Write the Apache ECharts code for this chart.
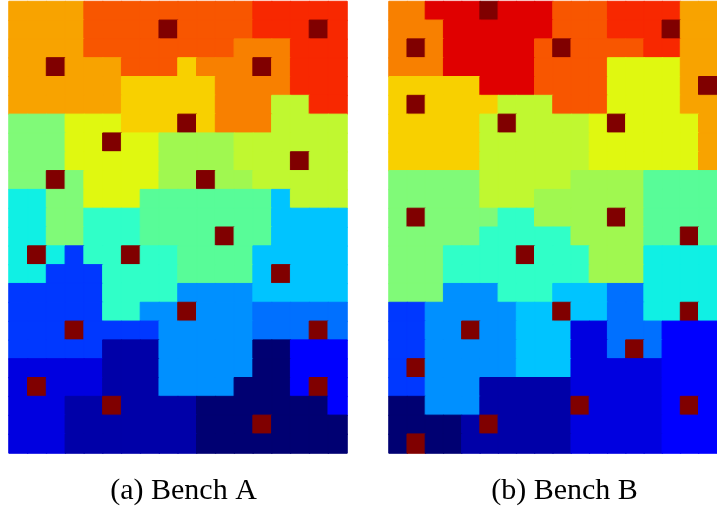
<!DOCTYPE html>
<html>
<head>
<meta charset="utf-8">
<script src="https://cdn.jsdelivr.net/npm/echarts@6/dist/echarts.min.js"></script>
<style>
  html, body { margin: 0; padding: 0; background: #fff; }
  #chart { width: 717px; height: 506px; }
</style>
</head>
<body>
<div id="chart"></div>
<script>
// grid size of each bench
const colCount = 18;
const rowCount = 24;

// colour levels, from coldest to hottest; X = probe marker
const levelCodes = ['N', 'n', 'b', 'B', 'd', 'm', 'l', 'c', 't', 'a', 's', 'g', 'i', 'y', 'Y', 'G', 'o', 'O', 'r', 'R', 'E', 'X'];
const levelColors = ['#000072', '#0000a8', '#0000e0', '#0000ff', '#0038ff', '#0070ff', '#0090ff', '#00c4ff',
  '#10f0e4', '#30ffc8', '#58fc98', '#80fa78', '#a0f850', '#c0f830', '#e0f810', '#f8d000',
  '#f8a300', '#f88000', '#f85600', '#f82800', '#e00000', '#800000'];

// one string per row, top row first, one char per cell
const benchA = [
  'oooorrrrrrrrrRRRRR',
  'oooorrrrXrrrrRRRXR',
  'oooorrrrrrrrOOORRR',
  'ooXooorrrGOOOXORRR',
  'ooooooGGGGGOOOORRR',
  'ooooooGGGGGOOOyyRR',
  'gggYYYGGGXGOOOyyyy',
  'gggYYXYYiiiiyyyyyy',
  'gggYYYYYiiiiyyyXyy',
  'ggXgYYYYiiXiiyyyyy',
  'ttggYYYssssssscyyy',
  'ttggaaassssssscccc',
  'ttggaaassssXsscccc',
  'tXtdaaXaassssccccc',
  'ttdddaaaasssscXccc',
  'dddddaaaallllccccc',
  'dddddaallXlllmmmmm',
  'dddXddddlllllmmmXm',
  'dddddnnnlllllNNBBB',
  'bbbbbnnnlllllNNBBB',
  'bXbbbnnnllllNNNBXB',
  'bbbnnXnnnnNNNNNNNB',
  'bbbnnnnnnnNNNXNNNN',
  'bbbnnnnnnnNNNNNNNN'
];

const benchB = [
  'OOEEEXEEErrrRRRRoo',
  'OOOEEEEEErrrRRRXoo',
  'OXOEEEEErXrrrrRRoo',
  'OOOEEEEErrrrYYYYoo',
  'GGGGGEEErrrrYYYYoX',
  'GXGGGGyyyrrrYYYYoo',
  'GGGGGyXyyyyYXYYYYo',
  'GGGGGyyyyyyYYYYYYo',
  'GGGGGyyyyyyYYYYYYo',
  'gggggyyyyyiiiissss',
  'gggggyyyiiiiiissss',
  'gXggggaaiiiiXissss',
  'gggggaaaaaiiiissXs',
  'gggaaaaXaaaiiitttt',
  'gggaaaaaaaaiiitttt',
  'ggglllaaacccmmtttt',
  'ddlllllccXccmmttXt',
  'ddllXllcccbbmmmBBB',
  'ddlllllcccbbmXmBBB',
  'dXlllllcccbbbbbBBB',
  'ddlllnnnnnbbbbbBBB',
  'NNlllnnnnnXbbbbBXB',
  'NNNNnXnnnnbbbbbBBB',
  'NXNNnnnnnnbbbbbBBB'
];

const captions = ['(a) Bench A', '(b) Bench B'];

const colNames = Array.from({ length: colCount }, (_, i) => String(i));
const rowNames = Array.from({ length: rowCount }, (_, i) => String(i));

function toCells(rows) {
  const out = [];
  rows.forEach((line, r) => {
    for (let c = 0; c < colCount; c++) {
      const lv = levelCodes.indexOf(line[c]);
      // border in the cell's own colour hides the hairline seams
      out.push({ value: [c, r, lv], itemStyle: { borderColor: levelColors[lv], borderWidth: 1 } });
    }
  });
  return out;
}

const panels = [
  { left: 9, width: 338, caption: 178.5 },
  { left: 389, width: 336.6, caption: 559.5 }
];

const chart = echarts.init(document.getElementById('chart'), null, { renderer: 'canvas' });

chart.setOption({
  animation: false,
  backgroundColor: '#ffffff',
  title: panels.map((p, i) => ({
    text: captions[i],
    left: p.caption,
    top: 471,
    textAlign: 'center',
    textStyle: { fontFamily: 'Liberation Serif', fontWeight: 'normal', fontSize: 30, color: '#000' }
  })),
  grid: panels.map(p => ({ left: p.left, width: p.width, top: 1.5, height: 451.5, containLabel: false })),
  xAxis: panels.map((p, i) => ({
    type: 'category', gridIndex: i, data: colNames, show: false
  })),
  yAxis: panels.map((p, i) => ({
    type: 'category', gridIndex: i, data: rowNames, inverse: true, show: false
  })),
  visualMap: {
    type: 'piecewise',
    show: false,
    dimension: 2,
    seriesIndex: [0, 1],
    pieces: levelColors.map((color, i) => ({ value: i, color: color }))
  },
  series: [benchA, benchB].map((rows, i) => ({
    type: 'heatmap',
    xAxisIndex: i,
    yAxisIndex: i,
    data: toCells(rows),
    progressive: 0,
    emphasis: { disabled: true }
  }))
});
</script>
</body>
</html>
